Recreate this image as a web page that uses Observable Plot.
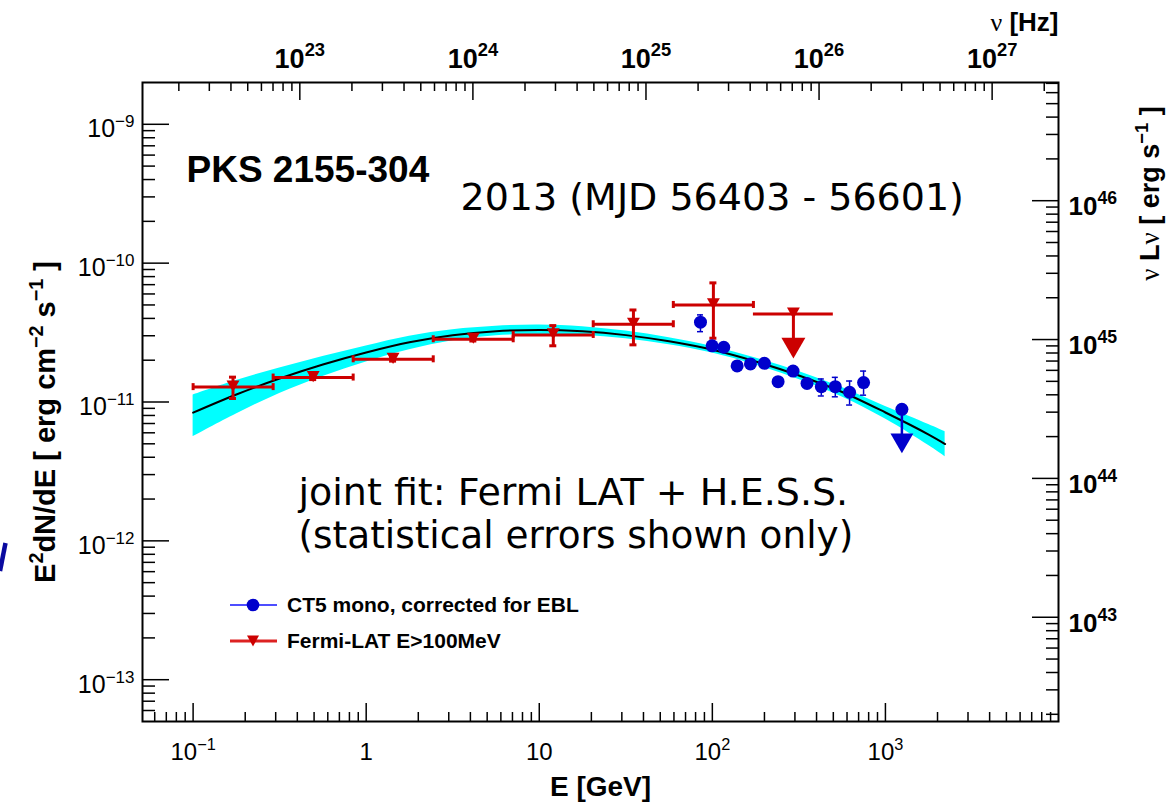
<!DOCTYPE html>
<html>
<head>
<meta charset="utf-8">
<script src="https://cdn.jsdelivr.net/npm/d3@7"></script>
<script src="https://cdn.jsdelivr.net/npm/@observablehq/plot@0.6"></script>
<style>
  body { margin: 0; background: #fff; }
  #wrap { position: relative; width: 1171px; height: 806px; overflow: hidden; background: #fff; }
  #legend { position: absolute; left: 0; top: 0; }
</style>
</head>
<body>
<div id="wrap"></div>
<script>
// ---- Fermi-LAT (E > 100 MeV) spectral points, E in GeV, E²dN/dE in erg cm⁻² s⁻¹
const fermiE   = [0.170, 0.494, 1.43, 4.16, 12.05, 35.0, 101.4, 294];
const fermiElo = [0.1, 0.290, 0.841, 2.44, 7.07, 20.5, 59.5, 172.7];
const fermiEhi = [0.290, 0.841, 2.44, 7.07, 20.5, 59.5, 172.7, 500];
const fermiF   = [1.28e-11, 1.50e-11, 2.03e-11, 2.83e-11, 3.04e-11, 3.63e-11, 5.00e-11, 4.30e-11];
const fermiFlo = [1.06e-11, 1.45e-11, 1.97e-11, 2.75e-11, 2.54e-11, 2.58e-11, 2.88e-11, null];
const fermiFhi = [1.51e-11, 1.55e-11, 2.09e-11, 2.91e-11, 3.55e-11, 4.60e-11, 7.21e-11, null];
const fermiUL  = [false, false, false, false, false, false, false, true];

// ---- H.E.S.S. CT5 mono points (EBL corrected)
const hessE   = [85.4, 99.7, 116.4, 139.1, 166.0, 199.9, 239.8, 292.6, 352.3, 426.2, 513.4, 620.8, 747.8, 1245];
const hessF   = [3.76e-11, 2.54e-11, 2.48e-11, 1.82e-11, 1.88e-11, 1.90e-11, 1.40e-11, 1.67e-11, 1.36e-11, 1.29e-11, 1.29e-11, 1.175e-11, 1.38e-11, 8.86e-12];
const hessFlo = [3.21e-11, 2.44e-11, 2.38e-11, 1.75e-11, 1.80e-11, 1.82e-11, 1.34e-11, 1.60e-11, 1.30e-11, 1.105e-11, 1.09e-11, 0.951e-11, 1.12e-11, null];
const hessFhi = [4.24e-11, 2.64e-11, 2.58e-11, 1.89e-11, 1.96e-11, 1.98e-11, 1.46e-11, 1.74e-11, 1.42e-11, 1.465e-11, 1.505e-11, 1.416e-11, 1.67e-11, null];
const hessUL  = [false, false, false, false, false, false, false, false, false, false, false, false, false, true];

// ---- joint fit: central curve and its statistical band
const fitE  = [0.1, 0.1778, 0.3162, 0.5623, 1, 1.778, 3.162, 5.623, 10, 17.78, 31.62, 56.23, 100, 177.8, 316.2, 562.3, 1000, 1778, 2213];
const fitF  = [8.377e-12, 1.1327e-11, 1.4768e-11, 1.8637e-11, 2.2749e-11, 2.6937e-11, 3.0265e-11, 3.2336e-11, 3.3044e-11, 3.2336e-11, 3.0314e-11, 2.7344e-11, 2.3780e-11, 1.9589e-11, 1.5524e-11, 1.1806e-11, 8.403e-12, 5.829e-12, 4.980e-12];
const fitHi = [1.1232e-11, 1.4289e-11, 1.7583e-11, 2.1282e-11, 2.5337e-11, 2.9764e-11, 3.3158e-11, 3.5136e-11, 3.5906e-11, 3.4845e-11, 3.2396e-11, 2.8978e-11, 2.5116e-11, 2.0760e-11, 1.6592e-11, 1.2718e-11, 9.281e-12, 6.884e-12, 6.106e-12];
const fitLo = [5.621e-12, 8.195e-12, 1.1516e-11, 1.5270e-11, 1.9422e-11, 2.3780e-11, 2.7616e-11, 3.0012e-11, 3.0668e-11, 3.0265e-11, 2.8600e-11, 2.5885e-11, 2.2515e-11, 1.8484e-11, 1.4525e-11, 1.0864e-11, 7.540e-12, 4.857e-12, 4.032e-12];

// ---- axis ticks and labels
const eTicks = [0.1, 1, 10, 100, 1000];
const eTickLabels = ["10^{−1}", "1", "10", "10^{2}", "10^{3}"];
const fTicks = [1e-13, 1e-12, 1e-11, 1e-10, 1e-9];
const fTickLabels = ["10^{−13}", "10^{−12}", "10^{−11}", "10^{−10}", "10^{−9}"];
const nuTicks = [1e23, 1e24, 1e25, 1e26, 1e27];
const nuTickLabels = ["10^{23}", "10^{24}", "10^{25}", "10^{26}", "10^{27}"];
const lumTicks = [1e43, 1e44, 1e45, 1e46];
const lumTickLabels = ["10^{43}", "10^{44}", "10^{45}", "10^{46}"];

const planckGeV = 4.135667e-24;   // h in GeV·s: E = hν
const lumFactor = 3.55e55;        // 4π d_L² (cm²): νLν = 4π d_L² · E²dN/dE
const eDomain = [0.051, 1e4];
const fDomain = [5e-14, 2e-9];

const red = "#cc0000", blue = "#0000cc", cyan = "#00ffff";
const rootFont = "'Liberation Sans', Arial, Helvetica, sans-serif";
const slideFont = "'DejaVu Sans', 'Liberation Sans', sans-serif";

const W = 1171, H = 806;
const M = {top: 82, right: 113, bottom: 85, left: 142};
const frameH = H - M.top - M.bottom;

// ---- tables
const fermi = fermiE.map((e, i) => ({e, lo: fermiElo[i], hi: fermiEhi[i], f: fermiF[i], flo: fermiFlo[i], fhi: fermiFhi[i], ul: fermiUL[i]}));
const fermiPts = fermi.filter(d => !d.ul);
const fermiULs = fermi.filter(d => d.ul);
const hess = hessE.map((e, i) => ({e, f: hessF[i], flo: hessFlo[i], fhi: hessFhi[i], ul: hessUL[i]}));
const hessPts = hess.filter(d => !d.ul);
const hessULs = hess.filter(d => d.ul);
const fit = fitE.map((e, i) => ({e, f: fitF[i], lo: fitLo[i], hi: fitHi[i]}));

const fermiHCaps = fermiPts.flatMap(d => [{x: d.lo, y: d.f}, {x: d.hi, y: d.f}]);
const fermiVCaps = fermiPts.flatMap(d => [{x: d.e, y: d.flo}, {x: d.e, y: d.fhi}]);
const hessVCaps = hessPts.flatMap(d => [{x: d.e, y: d.flo}, {x: d.e, y: d.fhi}]);

// minor ticks k·10^p (k = 2..9) strictly inside [lo, hi]
function minorTicks(lo, hi) {
  const out = [];
  for (let p = Math.floor(Math.log10(lo)) - 1; p <= Math.ceil(Math.log10(hi)); p++)
    for (let k = 2; k <= 9; k++) {
      const v = k * 10 ** p;
      if (v > lo && v < hi) out.push(v);
    }
  return out;
}
const eMinor = minorTicks(...eDomain);
const fMinor = minorTicks(...fDomain);
const nuMajorE = nuTicks.map(n => n * planckGeV);
const nuMinorE = minorTicks(eDomain[0] / planckGeV, eDomain[1] / planckGeV).map(n => n * planckGeV);
const lumMajorF = lumTicks.map(l => l / lumFactor);
const lumMinorF = minorTicks(fDomain[0] * lumFactor, fDomain[1] * lumFactor).map(l => l / lumFactor);

const labelMap = (ticks, labels) => { const m = new Map(ticks.map((t, i) => [t, labels[i]])); return d => m.get(d); };
const blank = () => "";

// downward triangle centred on its bounding box
const triangleDown = {
  draw(context, size) {
    const side = Math.sqrt(4 * size / Math.sqrt(3));
    const h = side * Math.sqrt(3) / 2;
    context.moveTo(-side / 2, -h / 2);
    context.lineTo(side / 2, -h / 2);
    context.lineTo(0, h / 2);
    context.closePath();
  }
};

const titleOpts = {textAnchor: "middle", lineAnchor: "middle", fontWeight: "bold"};
const noteOpts = {frameAnchor: "top-left", textAnchor: "start", lineAnchor: "middle"};

const chart = Plot.plot({
  width: W,
  height: H,
  marginTop: M.top,
  marginRight: M.right,
  marginBottom: M.bottom,
  marginLeft: M.left,
  style: {fontFamily: rootFont, fontSize: "24px", background: "white", color: "black", overflow: "visible"},
  x: {type: "log", domain: eDomain},
  y: {type: "log", domain: fDomain},
  marks: [
    // fit band and curve
    Plot.areaY(fit, {x: "e", y1: "lo", y2: "hi", fill: cyan, curve: "catmull-rom"}),
    Plot.line(fit, {x: "e", y: "f", stroke: "black", strokeWidth: 2, curve: "catmull-rom"}),

    // Fermi-LAT
    Plot.ruleY(fermi, {y: "f", x1: "lo", x2: "hi", stroke: red, strokeWidth: 3}),
    Plot.ruleX(fermiHCaps, {x: "x", y1: "y", y2: "y", insetTop: -3.5, insetBottom: -3.5, stroke: red, strokeWidth: 3}),
    Plot.ruleX(fermiPts, {x: "e", y1: "flo", y2: "fhi", stroke: red, strokeWidth: 3}),
    Plot.ruleY(fermiVCaps, {y: "y", x1: "x", x2: "x", insetLeft: -3.5, insetRight: -3.5, stroke: red, strokeWidth: 3}),
    Plot.ruleX(fermiULs, {x: "e", y1: "f", y2: "f", insetBottom: -30, stroke: red, strokeWidth: 3}),
    Plot.dot(fermiULs, {x: "e", y: "f", symbol: triangleDown, r: 8.9, fill: red, dy: 34}),
    Plot.dot(fermi, {x: "e", y: "f", symbol: triangleDown, r: 4.8, fill: red, dy: -1}),

    // H.E.S.S. CT5
    Plot.ruleX(hessPts, {x: "e", y1: "flo", y2: "fhi", stroke: blue, strokeWidth: 1.5}),
    Plot.ruleY(hessVCaps, {y: "y", x1: "x", x2: "x", insetLeft: -3, insetRight: -3, stroke: blue, strokeWidth: 1.5}),
    Plot.ruleX(hessULs, {x: "e", y1: "f", y2: "f", insetBottom: -30, stroke: blue, strokeWidth: 2.5}),
    Plot.dot(hessULs, {x: "e", y: "f", symbol: triangleDown, r: 8.5, fill: blue, dy: 34}),
    Plot.dot(hess, {x: "e", y: "f", r: 6.5, fill: blue}),

    // frame
    Plot.frame({stroke: "black", strokeWidth: 2}),

    // bottom axis: E [GeV]
    Plot.axisX(eMinor, {anchor: "bottom", tickSize: -9, tickFormat: blank, label: null, strokeWidth: 1.5}),
    Plot.axisX(eTicks, {anchor: "bottom", tickSize: -18, tickFormat: blank, label: null, strokeWidth: 1.5}),
    Plot.axisX(eTicks, {anchor: "bottom", tickSize: 0, tickPadding: 21, tickFormat: labelMap(eTicks, eTickLabels), label: null, fontSize: 24}),

    // top axis: ν [Hz], ticks hang down from the top edge of the frame
    Plot.ruleX(nuMinorE, {x: d => d, insetBottom: frameH - 9, stroke: "black", strokeWidth: 1.5}),
    Plot.ruleX(nuMajorE, {x: d => d, insetBottom: frameH - 18, stroke: "black", strokeWidth: 1.5}),
    Plot.text(nuMajorE, {x: d => d, frameAnchor: "top", lineAnchor: "bottom", dy: -15, text: labelMap(nuMajorE, nuTickLabels), fontSize: 27, fontWeight: "bold"}),

    // left axis: E²dN/dE
    Plot.axisY(fMinor, {anchor: "left", tickSize: -13, tickFormat: blank, label: null, strokeWidth: 1.5}),
    Plot.axisY(fTicks, {anchor: "left", tickSize: -27, tickFormat: blank, label: null, strokeWidth: 1.5}),
    Plot.axisY(fTicks, {anchor: "left", tickSize: 0, tickPadding: 8, dy: 5, tickFormat: labelMap(fTicks, fTickLabels), label: null, fontSize: 25}),

    // right axis: νLν
    Plot.axisY(lumMinorF, {anchor: "right", tickSize: -13, tickFormat: blank, label: null, strokeWidth: 1.5}),
    Plot.axisY(lumMajorF, {anchor: "right", tickSize: -27, tickFormat: blank, label: null, strokeWidth: 1.5}),
    Plot.axisY(lumMajorF, {anchor: "right", tickSize: 0, tickPadding: 10, dy: 6, tickFormat: labelMap(lumMajorF, lumTickLabels), label: null, fontSize: 26, fontWeight: "bold"}),

    // axis titles
    Plot.text(["E [GeV]"], {...titleOpts, frameAnchor: "bottom", dy: 66, fontSize: 28}),
    Plot.text(["ν [Hz]"], {...titleOpts, frameAnchor: "top-right", textAnchor: "end", dy: -60, fontSize: 26}),
    Plot.text(["E^{2}dN/dE [ erg cm^{−2} s^{−1} ]"], {...titleOpts, frameAnchor: "left", rotate: -90, dx: -97, dy: 20, fontSize: 29}),
    Plot.text(["ν Lν [ erg s^{−1} ]"], {...titleOpts, frameAnchor: "top-right", rotate: -90, dx: 92, dy: 111, fontSize: 27}),

    // annotations
    Plot.text(["PKS 2155-304"], {...noteOpts, dx: 44, dy: 88, fontSize: 37, fontWeight: "bold"}),
    Plot.text(["2013 (MJD 56403 - 56601)"], {...noteOpts, dx: 318, dy: 115, fontSize: 38, fontFamily: slideFont}),
    Plot.text(["joint fit: Fermi LAT + H.E.S.S."], {...noteOpts, dx: 156, dy: 410, fontSize: 38, fontFamily: slideFont}),
    Plot.text(["(statistical errors shown only)"], {...noteOpts, dx: 156, dy: 454, fontSize: 37.4, fontFamily: slideFont})
  ]
});

// "^{...}" markup becomes raised, smaller tspans; ν is set in a light serif
function applyMarkup(root) {
  const ns = "http://www.w3.org/2000/svg";
  root.querySelectorAll("text").forEach(t => {
    const s = t.textContent;
    if (!s.includes("^{") && !s.includes("ν")) return;
    t.textContent = "";
    let raised = false;
    for (const part of s.split(/(\^\{[^}]*\}|ν)/)) {
      if (!part) continue;
      const span = document.createElementNS(ns, "tspan");
      if (part.startsWith("^{")) {
        span.textContent = part.slice(2, -1);
        span.setAttribute("font-size", "68%");
        span.setAttribute("dy", "-0.6em");
        raised = true;
      } else {
        span.textContent = part;
        if (part === "ν") {
          span.setAttribute("font-weight", "normal");
          span.setAttribute("font-family", "'Liberation Serif', serif");
        }
        if (raised) span.setAttribute("dy", "0.408em");
        raised = false;
      }
      t.appendChild(span);
    }
  });
}
applyMarkup(chart);

const wrap = document.getElementById("wrap");
wrap.appendChild(chart);

// legend and the clipped stroke at the slide's left edge
const overlay = d3.select(wrap).append("svg").attr("id", "legend").attr("width", W).attr("height", H)
  .style("font-family", rootFont).style("font-weight", "bold").style("font-size", "21px");
overlay.append("line").attr("x1", 5.5).attr("y1", 543).attr("x2", 0).attr("y2", 571)
  .attr("stroke", "#0a0aa0").attr("stroke-width", 4.5);
const rowBlue = overlay.append("g").attr("transform", "translate(0,605)");
rowBlue.append("line").attr("x1", 230).attr("x2", 277).attr("stroke", "#4d4dff").attr("stroke-width", 2);
rowBlue.append("circle").attr("cx", 253).attr("r", 6.3).attr("fill", blue);
rowBlue.append("text").attr("x", 287).attr("dy", "0.35em").text("CT5 mono, corrected for EBL");
const rowRed = overlay.append("g").attr("transform", "translate(0,641)");
rowRed.append("line").attr("x1", 230).attr("x2", 277).attr("stroke", "#dd2222").attr("stroke-width", 3);
rowRed.append("path").attr("d", "M247,-5.5L259,-5.5L253,5.5Z").attr("fill", red);
rowRed.append("text").attr("x", 287).attr("dy", "0.35em").text("Fermi-LAT E>100MeV");
</script>
</body>
</html>
